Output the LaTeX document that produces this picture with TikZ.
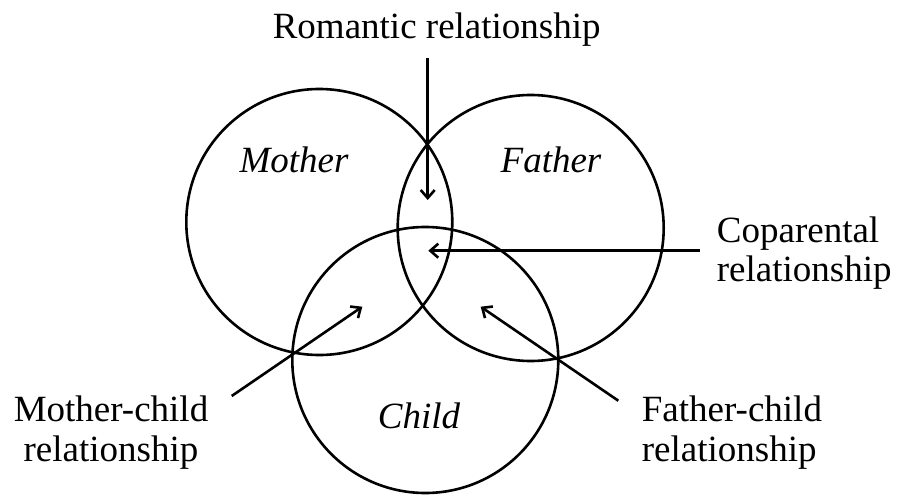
\documentclass[tikz,border=0pt]{standalone}
\usepackage{fontspec}
\setmainfont{Liberation Serif}
\usetikzlibrary{arrows.meta}
\tikzset{
  ring/.style={draw, line width=2.6pt},
  pointer/.style={line width=2.6pt, -{Straight Barb[length=8pt,width=14pt]}},
  label/.style={inner sep=0pt, font=\fontsize{37}{40}\selectfont},
  role/.style={label, font=\fontsize{37}{40}\selectfont\itshape},
}
\begin{document}
\begin{tikzpicture}[x=1pt,y=-1pt]
  \useasboundingbox (0,0) rectangle (900,495);
  % the three overlapping circles
  \draw[ring] (319.3,222) circle[radius=133];
  \draw[ring] (530.7,228) circle[radius=133];
  \draw[ring] (425.3,360) circle[radius=133];

  % circle names
  \node[role, anchor=base] (mother) at (294,172) {Mother};
  \node[role, anchor=base] (father) at (551,172) {Father};
  \node[role, anchor=base] (child) at (419,428) {Child};

  % relationship captions
  \node[label, anchor=base] (rom) at (436.7,39) {Romantic relationship};
  \node[label, anchor=base west] (cop1) at (716.7,242.7) {Coparental};
  \node[label, anchor=base west] (cop2) at (716.7,281.7) {relationship};
  \node[label, anchor=base] (mc1) at (111,421.7) {Mother-child};
  \node[label, anchor=base] (mc2) at (111,461.7) {relationship};
  \node[label, anchor=base west] (fc1) at (641.7,421.7) {Father-child};
  \node[label, anchor=base west] (fc2) at (641.7,461.7) {relationship};

  % arrow ends
  \coordinate (romS) at (427.7,58);
  \coordinate (romT) at (427.7,200);
  \coordinate (copS) at (700,250.7);
  \coordinate (copT) at (428.3,250.7);
  \coordinate (mcS) at (231.7,396);
  \coordinate (mcT) at (362.3,306.7);
  \coordinate (fcS) at (618.3,400.7);
  \coordinate (fcT) at (480.7,306.7);

  \draw[pointer] (romS) -- (romT);
  \draw[pointer] (copS) -- (copT);
  \draw[pointer] (mcS) -- (mcT);
  \draw[pointer] (fcS) -- (fcT);
\end{tikzpicture}
\end{document}
